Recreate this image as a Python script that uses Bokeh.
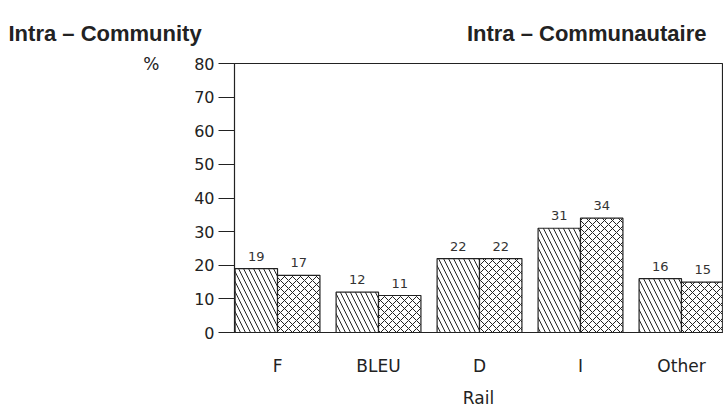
from bokeh.plotting import figure
from bokeh.models import FixedTicker, ColumnDataSource, LabelSet, LinearAxis
from bokeh.layouts import column
from bokeh.core.properties import value
from bokeh.embed import file_html
from bokeh.resources import INLINE

categories = ["F", "BLEU", "D", "I", "Other"]
series_a = [19, 12, 22, 31, 16]
series_b = [17, 11, 22, 34, 15]
y_ticks = [0, 10, 20, 30, 40, 50, 60, 70, 80]
titles = ["Intra – Community", "Intra – Communautaire"]
unit_label = "%"
x_title = "Rail"

W, H_HEAD, H_MAIN = 723, 48, 362

# ---- header with the two titles ----
head = figure(width=W, height=H_HEAD, output_backend="svg", toolbar_location=None,
              x_range=(0, W), y_range=(H_HEAD, 0), x_axis_type=None, y_axis_type=None)
head.min_border = 0
head.frame_align = False
head.outline_line_color = None
head.grid.visible = False
head.background_fill_color = "white"
head.border_fill_color = "white"
head.text(x=[8], y=[33], text=[titles[0]], text_font=value("Liberation Sans"),
          text_font_style="bold", text_font_size="22px", text_color="#222222",
          text_align="left", text_baseline="alphabetic")
head.text(x=[706], y=[33], text=[titles[1]], text_font=value("Liberation Sans"),
          text_font_style="bold", text_font_size="22px", text_color="#222222",
          text_align="right", text_baseline="alphabetic")

# ---- main chart ----
idx = list(range(len(categories)))
bw = 0.42
src_a = ColumnDataSource(dict(x=[i - bw / 2 for i in idx], top=series_a, lab=[str(v) for v in series_a]))
src_b = ColumnDataSource(dict(x=[i + bw / 2 for i in idx], top=series_b, lab=[str(v) for v in series_b]))

p = figure(width=W, height=H_MAIN, output_backend="svg", toolbar_location=None,
           x_range=(-0.426, 4.406), y_range=(0, 80))
p.frame_align = False
p.min_border_left = 234
p.min_border_right = 1
p.min_border_top = 63 - H_HEAD
p.min_border_bottom = 78
p.background_fill_color = "white"
p.border_fill_color = "white"
p.outline_line_color = "#222222"
p.outline_line_width = 1.2
p.grid.visible = False

p.vbar(x="x", top="top", width=bw, source=src_a, fill_color="white", line_color="#222222",
       line_width=1.2, hatch_pattern="\\", hatch_color="#222222", hatch_scale=10, hatch_weight=1)
p.vbar(x="x", top="top", width=bw, source=src_b, fill_color="white", line_color="#222222",
       line_width=1.2, hatch_pattern="x", hatch_color="#222222", hatch_scale=8, hatch_weight=1)

for s in (src_a, src_b):
    p.add_layout(LabelSet(x="x", y="top", text="lab", source=s, text_align="center",
                          text_baseline="bottom", y_offset=8, text_font=value("DejaVu Sans"),
                          text_font_size=value("13px"), text_color=value("#333333")))

p.yaxis.ticker = FixedTicker(ticks=y_ticks)
p.yaxis.major_tick_out = 16
p.yaxis.major_tick_in = 0
p.yaxis.minor_tick_line_color = None
p.yaxis.major_label_standoff = 4
p.yaxis.major_label_text_font = "DejaVu Sans"
p.yaxis.major_label_text_font_size = "16px"
p.yaxis.major_label_text_color = "#222222"
p.yaxis.axis_line_color = "#222222"
p.yaxis.major_tick_line_color = "#222222"

# "%" unit marker as an outer axis label at the top tick
unit_axis = LinearAxis(ticker=FixedTicker(ticks=[y_ticks[-1]]),
                       major_label_overrides={y_ticks[-1]: unit_label})
unit_axis.axis_line_color = None
unit_axis.major_tick_line_color = None
unit_axis.minor_tick_line_color = None
unit_axis.major_tick_out = 0
unit_axis.major_tick_in = 0
unit_axis.major_label_standoff = 32
unit_axis.major_label_text_font = "DejaVu Sans"
unit_axis.major_label_text_font_size = "17px"
unit_axis.major_label_text_color = "#222222"
p.add_layout(unit_axis, "left")

p.xaxis.ticker = FixedTicker(ticks=idx)
p.xaxis.major_label_overrides = {i: c for i, c in zip(idx, categories)}
p.xaxis.major_tick_line_color = None
p.xaxis.minor_tick_line_color = None
p.xaxis.major_label_standoff = 17
p.xaxis.major_label_text_font = "DejaVu Sans"
p.xaxis.major_label_text_font_size = "17px"
p.xaxis.major_label_text_color = "#222222"
p.xaxis.axis_line_color = "#222222"
p.xaxis.axis_label = x_title
p.xaxis.axis_label_text_font = "DejaVu Sans"
p.xaxis.axis_label_text_font_style = "normal"
p.xaxis.axis_label_text_font_size = "17px"
p.xaxis.axis_label_text_color = "#222222"
p.xaxis.axis_label_standoff = 9

layout = column(head, p, spacing=0)
open("out.html", "w").write(file_html(layout, INLINE))
